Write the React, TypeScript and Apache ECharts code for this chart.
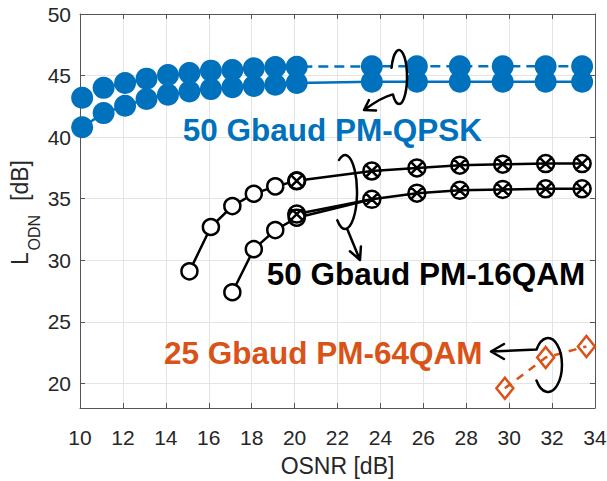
import React, { useEffect, useRef } from "react";
import * as echarts from "echarts";

const FONT = "'Liberation Sans', Arial, Helvetica, sans-serif";
const BLUE = "#0072BD";
const ORANGE = "#D95319";
const BLACK = "#000000";

// OSNR values [dB]
const osnrLow = [10.1, 11.1, 12.1, 13.1, 14.1, 15.1, 16.1, 17.1, 18.1, 19.1, 20.1];
const osnrHigh = [23.6, 25.7, 27.7, 29.7, 31.7, 33.4];

// 50 Gbaud PM-QPSK, L_ODN [dB]
const qpskUpperLow = [43.2, 44.0, 44.4, 44.75, 45.05, 45.2, 45.4, 45.45, 45.6, 45.7, 45.72];
const qpskUpperHigh = [45.75, 45.75, 45.75, 45.75, 45.75, 45.75];
const qpskLowerLow = [40.8, 41.95, 42.55, 43.1, 43.45, 43.7, 43.9, 44.05, 44.15, 44.25, 44.4];
const qpskLowerHigh = [44.5, 44.5, 44.5, 44.5, 44.5, 44.5];

// 50 Gbaud PM-16QAM
const qam16UpperOpenX = [15.1, 16.1, 17.1, 18.1, 19.1, 20.1];
const qam16UpperOpen = [29.1, 32.7, 34.4, 35.4, 36.0, 36.45];
const qam16UpperCrossX = [20.1, 23.6, 25.7, 27.7, 29.7, 31.7, 33.4];
const qam16UpperCross = [36.45, 37.25, 37.5, 37.72, 37.8, 37.85, 37.85];
const qam16LowerOpenX = [17.1, 18.1, 19.1, 20.1];
const qam16LowerOpen = [27.4, 30.9, 32.45, 33.45];
const qam16LowerCrossX = [20.1, 23.6, 25.7, 27.7, 29.7, 31.7, 33.4];
const qam16LowerCross = [33.75, 34.95, 35.45, 35.68, 35.75, 35.8, 35.8];

// 25 Gbaud PM-64QAM
const qam64X = [29.8, 31.7, 33.6];
const qam64 = [19.6, 22.1, 23.0];

const yTicks = [20, 25, 30, 35, 40, 45, 50];

const zip = (xs: number[], ys: number[]) => xs.map((x, i) => [x, ys[i]]);

// circle with an inscribed cross
const CROSS_CIRCLE =
  "path://M0,10A10,10,0,1,1,20,10A10,10,0,1,1,0,10ZM2.93,2.93L17.07,17.07M17.07,2.93L2.93,17.07";

// hand-drawn loops with arrows marking each group of curves
echarts.graphic.registerShape(
  "qpskLoop",
  echarts.graphic.extendPath(
    "M391.5 67.8 A8 27 0 1 1 392.9 94.4 Q382 97 364 110 M376 110.5 L364 110 L369 100",
    {}
  )
);
echarts.graphic.registerShape(
  "qam16Loop",
  echarts.graphic.extendPath(
    "M339 160 A12 37 0 1 1 337.3 220.3 M347 228.5 L360 260 M349.9 251.2 L360 260 L360.9 246.6",
    {}
  )
);
echarts.graphic.registerShape(
  "qam64Loop",
  echarts.graphic.extendPath(
    "M536.5 349.5 A14 27 0 1 1 536.5 380.5 M536.5 349.5 L491 351.5 M504 344 L491 351.5 L504 359",
    {}
  )
);

export default function App() {
  const ref = useRef<HTMLDivElement>(null);

  useEffect(() => {
    if (!ref.current) return;
    const chart = echarts.init(ref.current, undefined, { renderer: "svg" });

    const axisLine = { show: true, lineStyle: { color: "#555", width: 1 } };
    const tick = { show: true, inside: true, length: 5, lineStyle: { color: "#555", width: 1 } };
    const grid = { show: true, lineStyle: { color: "#e4e4e4", width: 1 } };
    const tickLabel = { fontSize: 21, color: "#262626", fontFamily: FONT };

    const loopStyle = { fill: "none", stroke: BLACK, lineWidth: 2.5, lineJoin: "round", lineCap: "round" };
    const titleText = (text: string, x: number, y: number, color: string) => ({
      type: "text",
      x,
      y,
      z: 100,
      style: {
        text,
        fill: color,
        fontSize: 31.5,
        fontWeight: "bold",
        fontFamily: FONT,
        align: "left",
        verticalAlign: "middle",
      },
    });
    const labelPart = (text: string, x: number, y: number, size: number) => ({
      type: "text",
      x,
      y,
      style: {
        text,
        fill: "#262626",
        fontSize: size,
        fontFamily: FONT,
        align: "left",
        verticalAlign: "middle",
      },
    });

    chart.setOption({
      animation: false,
      backgroundColor: "#fff",
      grid: { left: 80, right: 12, top: 14, bottom: 73, containLabel: false, outerBoundsMode: "none" },
      xAxis: [
        {
          type: "value",
          min: 10,
          max: 34,
          interval: 2,
          position: "bottom",
          name: "OSNR [dB]",
          nameLocation: "middle",
          nameGap: 46,
          nameTextStyle: { fontSize: 23, color: "#262626", fontFamily: FONT },
          axisLine,
          axisTick: tick,
          axisLabel: { ...tickLabel, margin: 19 },
          splitLine: grid,
        },
        {
          type: "value",
          min: 10,
          max: 34,
          interval: 2,
          position: "top",
          axisLine,
          axisTick: tick,
          axisLabel: { show: false },
          splitLine: { show: false },
        },
      ],
      yAxis: [
        {
          type: "value",
          min: 18,
          max: 50,
          position: "left",
          axisLine,
          axisTick: { ...tick, customValues: yTicks },
          axisLabel: { ...tickLabel, margin: 9, customValues: yTicks },
          splitLine: grid,
        },
        {
          type: "value",
          min: 18,
          max: 50,
          position: "right",
          axisLine,
          axisTick: { ...tick, customValues: yTicks },
          axisLabel: { show: false, customValues: yTicks },
          splitLine: { show: false },
        },
      ],
      series: [
        {
          name: "QPSK lower",
          type: "line",
          data: zip([...osnrLow, ...osnrHigh], [...qpskLowerLow, ...qpskLowerHigh]),
          symbol: "circle",
          symbolSize: 22,
          itemStyle: { color: BLUE },
          lineStyle: { color: BLUE, width: 2.5 },
        },
        {
          name: "QPSK upper",
          type: "line",
          data: zip([...osnrLow, ...osnrHigh], [...qpskUpperLow, ...qpskUpperHigh]),
          symbol: "circle",
          symbolSize: 22,
          itemStyle: { color: BLUE },
          lineStyle: { color: BLUE, width: 2.5, type: [10, 6] },
        },
        {
          name: "16QAM upper (open)",
          type: "line",
          data: zip(qam16UpperOpenX, qam16UpperOpen),
          symbol: "circle",
          symbolSize: 16,
          itemStyle: { color: "#fff", borderColor: BLACK, borderWidth: 2.5 },
          lineStyle: { color: BLACK, width: 2.5 },
        },
        {
          name: "16QAM lower (open)",
          type: "line",
          data: [
            ...zip(qam16LowerOpenX, qam16LowerOpen),
            { value: [qam16LowerCrossX[1], qam16LowerCross[1]], symbol: "none" },
          ],
          symbol: "circle",
          symbolSize: 16,
          itemStyle: { color: "#fff", borderColor: BLACK, borderWidth: 2.5 },
          lineStyle: { color: BLACK, width: 2.5 },
        },
        {
          name: "16QAM upper",
          type: "line",
          data: zip(qam16UpperCrossX, qam16UpperCross),
          symbol: CROSS_CIRCLE,
          symbolSize: 17,
          itemStyle: { color: "rgba(0,0,0,0)", borderColor: BLACK, borderWidth: 2.5 },
          lineStyle: { color: BLACK, width: 2.5 },
        },
        {
          name: "16QAM lower",
          type: "line",
          data: zip(qam16LowerCrossX, qam16LowerCross),
          symbol: CROSS_CIRCLE,
          symbolSize: 17,
          itemStyle: { color: "rgba(0,0,0,0)", borderColor: BLACK, borderWidth: 2.5 },
          lineStyle: { color: BLACK, width: 2.5 },
        },
        {
          name: "64QAM",
          type: "line",
          data: zip(qam64X, qam64),
          symbol: "diamond",
          symbolSize: [17, 21],
          itemStyle: { color: "rgba(0,0,0,0)", borderColor: ORANGE, borderWidth: 2.5 },
          lineStyle: { color: ORANGE, width: 2.5, type: [8, 7] },
        },
      ],
      graphic: [
        { type: "qpskLoop", x: 0, y: 0, z: 100, style: loopStyle },
        { type: "qam16Loop", x: 0, y: 0, z: 100, style: loopStyle },
        { type: "qam64Loop", x: 0, y: 0, z: 100, style: loopStyle },
        titleText("50 Gbaud PM-QPSK", 182.7, 129.5, BLUE),
        titleText("50 Gbaud PM-16QAM", 266.7, 274, BLACK),
        titleText("25 Gbaud PM-64QAM", 164, 352.5, ORANGE),
        {
          type: "group",
          x: 28,
          y: 265,
          rotation: Math.PI / 2,
          children: [
            labelPart("L", 0, -8, 23),
            labelPart("ODN", 14.5, 6.5, 16),
            labelPart("[dB]", 64, -8, 23),
          ],
        },
      ],
    });

    return () => chart.dispose();
  }, []);

  return (
    <div
      ref={ref}
      style={{ position: "fixed", left: 0, top: 0, width: 607, height: 481, background: "#fff" }}
    />
  );
}
